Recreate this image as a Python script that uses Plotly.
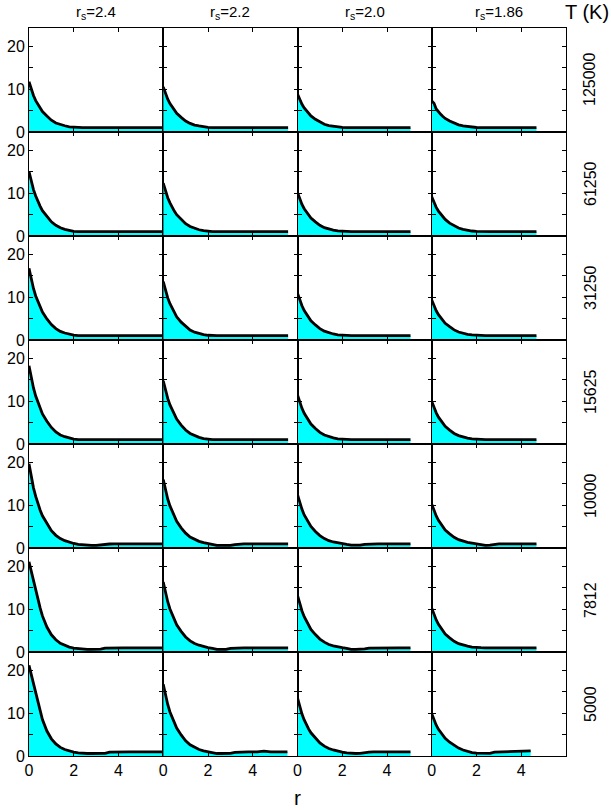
import plotly.graph_objects as go
from plotly.subplots import make_subplots

RS_LABELS = ["2.4", "2.2", "2.0", "1.86"]
TEMPS = ["125000", "61250", "31250", "15625", "10000", "7812", "5000"]

# r grid of the decaying part and of the tail
R_HEAD = [0.0, 0.1, 0.2, 0.3, 0.4, 0.5, 0.6, 0.8, 1.0, 1.2, 1.4, 1.6, 1.8, 2.0, 2.2]
R_TAIL = [2.4, 2.6, 2.8, 3.0, 3.2, 3.4, 3.6, 3.8, 4.0, 4.2, 4.5, 4.8, 5.2, 5.6, 6.0]

# where each curve stops (rows = temperatures, cols = r_s)
R_END = [
    [5.95, 5.58, 5.05, 4.68],
    [5.95, 5.58, 5.05, 4.68],
    [5.95, 5.58, 5.05, 4.68],
    [5.95, 5.58, 5.05, 4.68],
    [5.95, 5.58, 5.05, 4.68],
    [5.95, 5.58, 5.05, 4.68],
    [5.95, 5.55, 5.05, 4.42],
]

# g(r) on R_HEAD
G_HEAD = [
    [  # 125000
        [11.7, 10.0, 8.5, 7.3, 6.35, 5.5, 4.75, 3.7, 2.75, 2.1, 1.7, 1.45, 1.2, 1.1, 1.0],
        [10.5, 9.0, 7.65, 6.6, 5.75, 5.0, 4.35, 3.4, 2.55, 2.0, 1.6, 1.4, 1.2, 1.08, 1.0],
        [8.8, 7.55, 6.45, 5.6, 4.9, 4.3, 3.75, 2.95, 2.3, 1.8, 1.5, 1.3, 1.15, 1.06, 1.0],
        [7.2, 6.7, 5.35, 4.65, 4.1, 3.6, 3.15, 2.55, 2.0, 1.65, 1.4, 1.25, 1.12, 1.05, 1.0],
    ],
    [  # 61250
        [15.0, 12.8, 10.8, 9.3, 8.0, 6.9, 5.9, 4.5, 3.3, 2.5, 1.9, 1.55, 1.3, 1.1, 1.0],
        [12.3, 10.5, 8.9, 7.7, 6.65, 5.75, 4.95, 3.85, 2.85, 2.2, 1.75, 1.45, 1.23, 1.09, 1.0],
        [10.1, 8.65, 7.35, 6.35, 5.55, 4.8, 4.2, 3.3, 2.5, 1.95, 1.6, 1.36, 1.18, 1.07, 1.0],
        [9.1, 7.8, 6.65, 5.8, 5.05, 4.4, 3.85, 3.0, 2.35, 1.85, 1.55, 1.32, 1.16, 1.06, 1.0],
    ],
    [  # 31250
        [16.7, 14.2, 12.0, 10.25, 8.85, 7.6, 6.5, 4.9, 3.6, 2.65, 2.0, 1.63, 1.31, 1.13, 1.0],
        [13.6, 11.6, 9.8, 8.45, 7.3, 6.3, 5.4, 4.15, 3.1, 2.3, 1.82, 1.5, 1.25, 1.1, 1.0],
        [10.9, 9.3, 7.95, 6.85, 5.95, 5.15, 4.45, 3.5, 2.65, 2.05, 1.65, 1.4, 1.2, 1.08, 1.0],
        [9.3, 8.0, 6.8, 5.9, 5.15, 4.5, 3.9, 3.1, 2.35, 1.85, 1.55, 1.33, 1.17, 1.07, 1.0],
    ],
    [  # 15625
        [18.2, 15.45, 13.05, 11.15, 9.6, 8.2, 7.0, 5.3, 3.85, 2.8, 2.1, 1.7, 1.35, 1.14, 1.0],
        [14.7, 12.5, 10.6, 9.1, 7.85, 6.75, 5.8, 4.4, 3.25, 2.45, 1.9, 1.55, 1.27, 1.1, 1.0],
        [11.4, 9.75, 8.3, 7.15, 6.2, 5.35, 4.65, 3.6, 2.7, 2.1, 1.68, 1.42, 1.2, 1.08, 1.0],
        [9.9, 8.5, 7.25, 6.25, 5.45, 4.75, 4.1, 3.25, 2.45, 1.95, 1.6, 1.35, 1.18, 1.07, 1.0],
    ],
    [  # 10000
        [19.6, 16.6, 14.0, 12.0, 10.3, 8.8, 7.5, 5.65, 4.05, 2.95, 2.2, 1.7, 1.3, 1.05, 0.85],
        [15.9, 13.5, 11.4, 9.8, 8.45, 7.25, 6.2, 4.7, 3.45, 2.55, 1.95, 1.55, 1.25, 1.02, 0.85],
        [12.4, 10.6, 9.0, 7.7, 6.7, 5.8, 5.0, 3.85, 2.9, 2.2, 1.7, 1.4, 1.15, 0.98, 0.82],
        [10.2, 8.75, 7.45, 6.45, 5.6, 4.85, 4.2, 3.3, 2.5, 1.95, 1.55, 1.3, 1.12, 1.0, 0.88],
    ],
    [  # 7812
        [21.0, 18.7, 16.8, 14.6, 12.3, 10.2, 8.4, 5.8, 4.0, 2.85, 2.0, 1.5, 1.15, 0.92, 0.8],
        [16.3, 13.85, 11.7, 10.0, 8.65, 7.4, 6.35, 4.8, 3.5, 2.6, 1.98, 1.58, 1.25, 1.02, 0.85],
        [13.2, 11.25, 9.55, 8.2, 7.1, 6.1, 5.25, 4.05, 3.0, 2.3, 1.75, 1.45, 1.18, 1.0, 0.85],
        [10.2, 8.75, 7.45, 6.45, 5.6, 4.85, 4.2, 3.3, 2.5, 1.95, 1.6, 1.35, 1.15, 1.03, 1.0],
    ],
    [  # 5000
        [21.1, 19.0, 17.2, 15.0, 12.6, 10.3, 8.5, 5.8, 4.0, 2.8, 2.0, 1.5, 1.15, 0.9, 0.75],
        [16.7, 14.2, 12.0, 10.25, 8.85, 7.6, 6.5, 4.9, 3.55, 2.6, 1.95, 1.5, 1.2, 0.95, 0.78],
        [13.5, 11.5, 9.75, 8.4, 7.25, 6.25, 5.4, 4.1, 3.05, 2.3, 1.75, 1.4, 1.1, 0.9, 0.75],
        [9.8, 8.4, 7.15, 6.2, 5.4, 4.7, 4.1, 3.2, 2.45, 1.85, 1.4, 1.05, 0.8, 0.65, 0.6],
    ],
]

# g(r) on R_TAIL
G_TAIL = [
    [
        [1.0, 1.0, 1.0, 1.0, 1.0, 1.0, 1.0, 1.0, 1.0, 1.0, 1.0, 1.0, 1.0, 1.0, 1.0],
        [1.0, 1.0, 1.0, 1.0, 1.0, 1.0, 1.0, 1.0, 1.0, 1.0, 1.0, 1.0, 1.0, 1.0, 1.0],
        [1.0, 1.0, 1.0, 1.0, 1.0, 1.0, 1.0, 1.0, 1.0, 1.0, 1.0, 1.0, 1.0, 1.0, 1.0],
        [1.0, 1.0, 1.0, 1.0, 1.0, 1.0, 1.0, 1.0, 1.0, 1.0, 1.0, 1.0, 1.0, 1.0, 1.0],
    ],
    [
        [1.0, 1.0, 1.0, 1.0, 1.0, 1.0, 1.0, 1.0, 1.0, 1.0, 1.0, 1.0, 1.0, 1.0, 1.0],
        [1.0, 1.0, 1.0, 1.0, 1.0, 1.0, 1.0, 1.0, 1.0, 1.0, 1.0, 1.0, 1.0, 1.0, 1.0],
        [1.0, 1.0, 1.0, 1.0, 1.0, 1.0, 1.0, 1.0, 1.0, 1.0, 1.0, 1.0, 1.0, 1.0, 1.0],
        [1.0, 1.0, 1.0, 1.0, 1.0, 1.0, 1.0, 1.0, 1.0, 1.0, 1.0, 1.0, 1.0, 1.0, 1.0],
    ],
    [
        [1.0, 1.0, 1.0, 1.0, 1.0, 1.0, 1.0, 1.0, 1.0, 1.0, 1.0, 1.0, 1.0, 1.0, 1.0],
        [1.0, 1.0, 1.0, 1.0, 1.0, 1.0, 1.0, 1.0, 1.0, 1.0, 1.0, 1.0, 1.0, 1.0, 1.0],
        [1.0, 1.0, 1.0, 1.0, 1.0, 1.0, 1.0, 1.0, 1.0, 1.0, 1.0, 1.0, 1.0, 1.0, 1.0],
        [1.0, 1.0, 1.0, 1.0, 1.0, 1.0, 1.0, 1.0, 1.0, 1.0, 1.0, 1.0, 1.0, 1.0, 1.0],
    ],
    [
        [1.0, 1.0, 1.0, 1.0, 1.0, 1.0, 1.0, 1.0, 1.0, 1.0, 1.0, 1.0, 1.0, 1.0, 1.0],
        [1.0, 1.0, 1.0, 1.0, 1.0, 1.0, 1.0, 1.0, 1.0, 1.0, 1.0, 1.0, 1.0, 1.0, 1.0],
        [1.0, 1.0, 1.0, 1.0, 1.0, 1.0, 1.0, 1.0, 1.0, 1.0, 1.0, 1.0, 1.0, 1.0, 1.0],
        [1.0, 1.0, 1.0, 1.0, 1.0, 1.0, 1.0, 1.0, 1.0, 1.0, 1.0, 1.0, 1.0, 1.0, 1.0],
    ],
    [
        [0.72, 0.62, 0.60, 0.60, 0.75, 0.90, 0.93, 0.94, 0.95, 0.95, 0.95, 0.95, 0.95, 0.95, 0.95],
        [0.62, 0.60, 0.60, 0.62, 0.80, 0.92, 0.94, 0.95, 0.95, 0.95, 0.95, 0.95, 0.95, 0.95, 0.95],
        [0.65, 0.60, 0.65, 0.85, 0.93, 0.95, 0.95, 0.95, 0.95, 0.95, 0.95, 0.95, 0.95, 0.95, 0.95],
        [0.62, 0.68, 0.88, 0.95, 0.97, 0.98, 0.98, 0.98, 0.98, 0.98, 0.98, 0.98, 0.98, 0.98, 0.98],
    ],
    [
        [0.65, 0.60, 0.60, 0.60, 0.68, 0.88, 0.93, 0.95, 0.95, 0.95, 0.95, 0.95, 0.95, 0.95, 0.95],
        [0.62, 0.60, 0.62, 0.85, 0.93, 0.95, 0.95, 0.95, 0.95, 0.95, 0.95, 0.95, 0.95, 0.95, 0.95],
        [0.62, 0.60, 0.60, 0.75, 0.92, 0.95, 0.95, 0.95, 0.95, 0.95, 0.95, 0.95, 0.95, 0.95, 0.95],
        [0.98, 0.98, 0.98, 0.98, 0.98, 0.98, 0.98, 0.98, 0.98, 0.98, 0.98, 0.98, 0.98, 0.98, 0.98],
    ],
    [
        [0.60, 0.58, 0.58, 0.58, 0.58, 0.60, 0.90, 0.95, 0.95, 0.97, 0.97, 0.97, 0.97, 0.97, 0.97],
        [0.58, 0.58, 0.58, 0.60, 0.85, 0.92, 0.95, 0.95, 0.95, 0.95, 1.15, 0.95, 0.95, 0.95, 0.95],
        [0.58, 0.58, 0.60, 0.82, 0.92, 0.95, 0.95, 0.95, 0.95, 0.95, 0.95, 0.95, 0.95, 0.95, 0.95],
        [0.60, 0.60, 0.90, 0.95, 0.95, 0.95, 1.05, 1.20, 1.20, 1.20, 1.00, 1.00, 1.00, 1.00, 1.00],
    ],
]

Y_TICKS = [0, 10, 20]
Y_MINOR_STEP = 5
X_TICKS = [0, 2, 4]

W, H = 611, 810
ML, MR, MT, MB = 29, 45, 28, 54
NR, NC = len(TEMPS), len(RS_LABELS)

fig = make_subplots(rows=NR, cols=NC, horizontal_spacing=0, vertical_spacing=0)

FONT = "Liberation Sans, Arial, sans-serif"

for i in range(NR):
    for j in range(NC):
        end = R_END[i][j]
        xs = list(R_HEAD)
        ys = list(G_HEAD[i][j])
        last = ys[-1]
        for t, g in zip(R_TAIL, G_TAIL[i][j]):
            if t < end:
                xs.append(t)
                ys.append(g)
                last = g
        xs.append(end)
        ys.append(last)
        fig.add_trace(
            go.Scatter(
                x=xs, y=ys, mode="lines",
                line=dict(color="black", width=2.8),
                fill="tozeroy", fillcolor="#00FFFF",
                showlegend=False, hoverinfo="skip",
            ),
            row=i + 1, col=j + 1,
        )
        fig.update_xaxes(
            range=[0, 6], tickvals=X_TICKS,
            showticklabels=(i == NR - 1), automargin=False,
            ticks="inside", ticklen=4, tickcolor="black", mirror="ticks",
            showline=True, linecolor="black", linewidth=1,
            showgrid=False, zeroline=False,
            tickfont=dict(family=FONT, size=16, color="black"),
            row=i + 1, col=j + 1,
        )
        fig.update_yaxes(
            range=[0, 24.2], tickvals=Y_TICKS,
            showticklabels=(j == 0), automargin=False,
            ticks="inside", ticklen=4, tickcolor="black", mirror="ticks",
            minor=dict(dtick=Y_MINOR_STEP, tick0=0, ticks="inside", ticklen=4,
                       tickcolor="black", showgrid=False),
            showline=True, linecolor="black", linewidth=1,
            showgrid=False, zeroline=False,
            tickfont=dict(family=FONT, size=16, color="black"),
            row=i + 1, col=j + 1,
        )

annotations = []
for j, rs in enumerate(RS_LABELS):
    annotations.append(dict(
        text="r<sub>s</sub>=" + rs, xref="paper", yref="paper",
        x=(j + 0.5) / NC, y=1, xanchor="center", yanchor="middle", yshift=16,
        showarrow=False, font=dict(family=FONT, size=15, color="black"),
    ))
annotations.append(dict(
    text="T (K)", xref="paper", yref="paper", x=1, y=1,
    xanchor="center", yanchor="middle", xshift=21, yshift=16,
    showarrow=False, font=dict(family=FONT, size=20, color="black"),
))
for i, T in enumerate(TEMPS):
    annotations.append(dict(
        text=T, xref="paper", yref="paper", x=1, y=1 - (i + 0.5) / NR,
        xanchor="center", yanchor="middle", xshift=24, textangle=-90,
        showarrow=False, font=dict(family=FONT, size=16, color="black"),
    ))
annotations.append(dict(
    text="r", xref="paper", yref="paper", x=0.5, y=0,
    xanchor="center", yanchor="middle", yshift=-41,
    showarrow=False, font=dict(family=FONT, size=21, color="black"),
))

fig.update_layout(
    width=W, height=H,
    margin=dict(l=ML, r=MR, t=MT, b=MB, autoexpand=False),
    paper_bgcolor="white", plot_bgcolor="white",
    annotations=annotations,
)

fig.write_html(
    "out.html",
    config={"displayModeBar": False, "staticPlot": True},
    post_script="document.body.style.margin='0';document.body.style.padding='0';",
)
